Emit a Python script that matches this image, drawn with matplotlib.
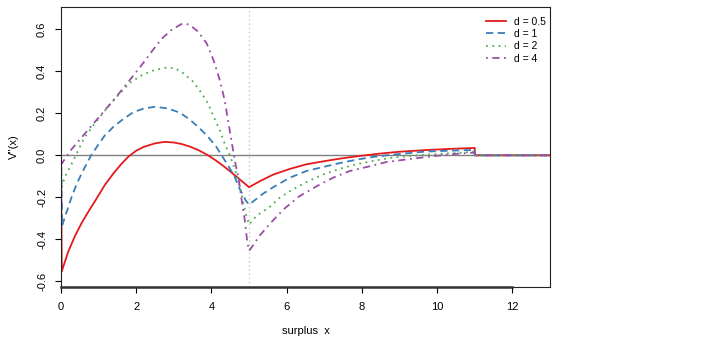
import matplotlib
matplotlib.use("Agg")
import matplotlib.pyplot as plt

plt.rcParams["font.family"] = ["Liberation Sans", "DejaVu Sans"]

# values
x_red = [0, 0.02, 0.08, 0.19, 0.37, 0.55, 0.73, 0.95, 1.17, 1.4, 1.6, 1.8,
         2.0, 2.2, 2.5, 2.75, 3.0, 3.2, 3.42, 3.65, 3.91, 4.12, 4.31, 4.5, 4.7,
         5.0, 5.3, 5.64, 6.08, 6.52, 7.0, 7.41, 7.85, 8.47, 9.0, 9.7, 10.4,
         11.0, 11.0, 13]
y_red = [0, -0.553, -0.52, -0.46, -0.385, -0.322, -0.268, -0.205, -0.14,
         -0.085, -0.042, -0.005, 0.022, 0.04, 0.057, 0.064, 0.061, 0.054,
         0.042, 0.025, 0.0, -0.025, -0.05, -0.077, -0.107, -0.152, -0.122,
         -0.092, -0.065, -0.043, -0.028, -0.016, -0.005, 0.008, 0.017, 0.025,
         0.031, 0.035, 0, 0]

x_blue = [0, 0.03, 0.15, 0.28, 0.42, 0.59, 0.80, 0.99, 1.17, 1.39, 1.65, 1.92,
          2.2, 2.5, 2.85, 3.16, 3.42, 3.69, 3.91, 4.13, 4.27, 4.44, 4.62, 4.75,
          4.91, 5.0, 5.37, 5.64, 6.08, 6.52, 6.96, 7.41, 7.85, 8.29, 8.8, 9.71,
          10.68, 11.0, 11.0, 13]
y_blue = [0, -0.335, -0.27, -0.2, -0.135, -0.072, 0.0, 0.05, 0.096, 0.135,
          0.172, 0.205, 0.223, 0.231, 0.223, 0.203, 0.171, 0.128, 0.088, 0.04,
          0.0, -0.048, -0.104, -0.16, -0.215, -0.235, -0.183, -0.152, -0.107,
          -0.075, -0.056, -0.037, -0.021, -0.008, 0.003, 0.018, 0.024, 0.026,
          0, 0]

x_green = [0, 0.02, 0.1, 0.19, 0.33, 0.42, 0.55, 0.64, 0.9, 1.21, 1.48, 1.83,
           2.18, 2.5, 2.81, 3.03, 3.25, 3.51, 3.73, 3.91, 4.06, 4.22, 4.35,
           4.49, 4.66, 4.8, 4.91, 5.0, 5.19, 5.55, 5.81, 6.08, 6.52, 6.96, 7.41,
           7.85, 8.29, 8.82, 9.7, 10.68, 11.0, 11.0, 13]
y_green = [0, -0.152, -0.104, -0.072, -0.024, 0.008, 0.059, 0.088, 0.152,
           0.223, 0.279, 0.345, 0.385, 0.407, 0.418, 0.415, 0.391, 0.351,
           0.298, 0.247, 0.183, 0.12, 0.056, 0.0, -0.088, -0.183, -0.279,
           -0.33, -0.29, -0.245, -0.203, -0.171, -0.128, -0.092, -0.064,
           -0.043, -0.027, -0.011, 0.003, 0.013, 0.018, 0, 0]

x_purple = [0, 0.02, 0.24, 0.5, 0.81, 1.12, 1.43, 1.7, 1.97, 2.23, 2.41, 2.67,
            2.94, 3.2, 3.3, 3.42, 3.64, 3.87, 4.05, 4.22, 4.35, 4.44, 4.53,
            4.62, 4.73, 4.8, 4.88, 4.95, 5.0, 5.1, 5.28, 5.55, 5.9, 6.33, 6.79,
            7.23, 7.67, 8.12, 8.65, 9.35, 10.24, 10.86, 11.0, 11.0, 13]
y_purple = [0, -0.04, 0.02, 0.075, 0.14, 0.205, 0.27, 0.33, 0.39, 0.45, 0.494,
            0.554, 0.598, 0.625, 0.627, 0.622, 0.59, 0.534, 0.455, 0.359,
            0.263, 0.167, 0.072, -0.024, -0.12, -0.21, -0.3, -0.41, -0.455,
            -0.43, -0.383, -0.327, -0.26, -0.196, -0.148, -0.107, -0.075,
            -0.056, -0.032, -0.016, 0.003, 0.012, 0.013, 0, 0]

labels = ["d = 0.5", "d = 1", "d = 2", "d = 4"]
colors = ["#E41A1C", "#377EB8", "#4DAF4A", "#984EA3"]
dash_styles = [None, (4, 2.5), (1, 2.5), (1, 2.5, 4, 2.5)]
barrier = 5
xticks = [0, 2, 4, 6, 8, 10, 12]
yticks = [-0.6, -0.4, -0.2, 0.0, 0.2, 0.4, 0.6]

fig = plt.figure(figsize=(7.12, 3.52), dpi=100)
ax = fig.add_axes([61 / 712, 1 - 286.7 / 352, (550 - 61) / 712, (286.7 - 6.7) / 352])

ax.axhline(0, color="#808080", lw=1.0, zorder=1)
ax.axvline(barrier, color="#C8C8C8", lw=1.0, ls=(0, (1, 2)), zorder=1)

series = [(x_red, y_red), (x_blue, y_blue), (x_green, y_green), (x_purple, y_purple)]
for (xs, ys), lab, col, dsh in zip(series, labels, colors, dash_styles):
    line, = ax.plot(xs, ys, color=col, lw=1.3, label=lab, zorder=2)
    if dsh is not None:
        line.set_dashes(dsh)

ax.set_xlim(0, 13)
ax.set_ylim(-0.626, 0.708)
ax.set_xticks(xticks)
ax.set_xticklabels([str(t) for t in xticks])
ax.set_yticks(yticks)
ax.set_yticklabels([f"{t:.1f}" for t in yticks])
ax.tick_params(axis="both", direction="out", length=4, width=0.8, labelsize=8)
ax.tick_params(axis="x", pad=7)
ax.tick_params(axis="y", pad=6)
for lbl in ax.get_yticklabels():
    lbl.set_rotation(90)
    lbl.set_va("center")

for sp in ax.spines.values():
    sp.set_linewidth(0.8)
    sp.set_color("#222222")

# heavier axis line under the ticks, as in base R
ax.plot([xticks[0], xticks[-1]], [-0.626, -0.626], color="#333333", lw=1.8,
        clip_on=False, zorder=3)

ax.set_xlabel("surplus  x", fontsize=8, labelpad=10)
ax.set_ylabel("V''(x)", fontsize=8, labelpad=13)

ax.legend(loc="upper right", frameon=False, fontsize=7.5, handlelength=1.95,
          handletextpad=0.75, labelspacing=0.22, borderaxespad=0.3,
          bbox_to_anchor=(1.006, 0.99))

fig.savefig("out.png", dpi=100)
